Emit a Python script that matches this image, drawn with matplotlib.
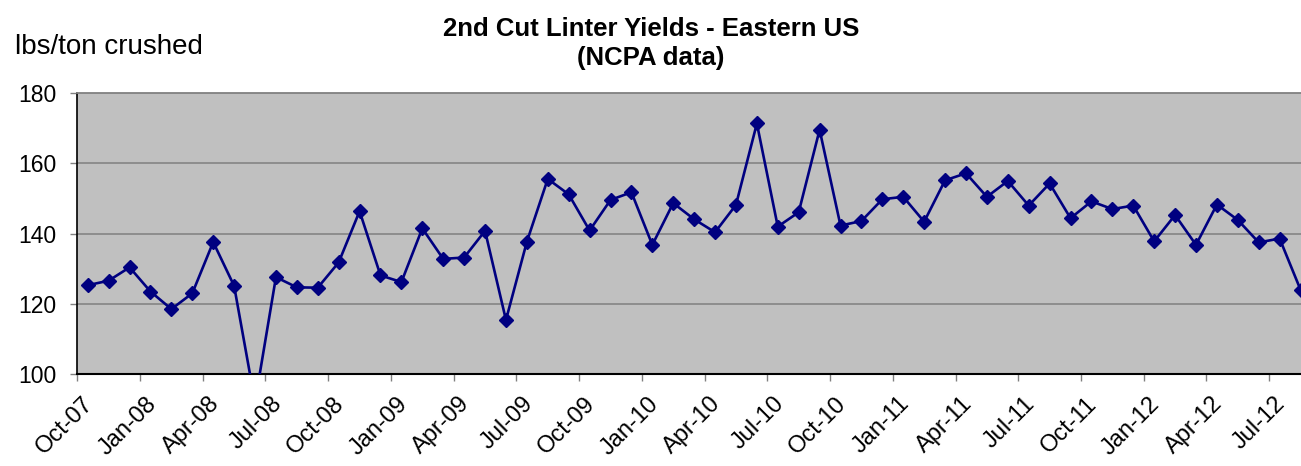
import matplotlib
matplotlib.use("Agg")
import matplotlib.pyplot as plt

plt.rcParams['font.family'] = ['Liberation Sans', 'DejaVu Sans']

# Monthly data, Oct-07 .. Aug-12
months = ["Oct-07", "Nov-07", "Dec-07", "Jan-08", "Feb-08", "Mar-08", "Apr-08", "May-08", "Jun-08",
          "Jul-08", "Aug-08", "Sep-08", "Oct-08", "Nov-08", "Dec-08", "Jan-09", "Feb-09", "Mar-09",
          "Apr-09", "May-09", "Jun-09", "Jul-09", "Aug-09", "Sep-09", "Oct-09", "Nov-09", "Dec-09",
          "Jan-10", "Feb-10", "Mar-10", "Apr-10", "May-10", "Jun-10", "Jul-10", "Aug-10", "Sep-10",
          "Oct-10", "Nov-10", "Dec-10", "Jan-11", "Feb-11", "Mar-11", "Apr-11", "May-11", "Jun-11",
          "Jul-11", "Aug-11", "Sep-11", "Oct-11", "Nov-11", "Dec-11", "Jan-12", "Feb-12", "Mar-12",
          "Apr-12", "May-12", "Jun-12", "Jul-12", "Aug-12"]
yields = [125.3, 126.6, 130.4, 123.5, 118.5, 123.0, 137.6, 125.1, 92.0,
          127.6, 124.7, 124.6, 131.8, 146.4, 128.1, 126.2, 141.5, 132.8,
          133.2, 140.8, 115.4, 137.7, 155.6, 151.2, 140.9, 149.6, 151.8,
          136.8, 148.7, 144.1, 140.4, 148.2, 171.4, 142.0, 146.1, 169.6,
          142.3, 143.6, 149.8, 150.5, 143.4, 155.2, 157.2, 150.5, 155.0,
          148.0, 154.3, 144.4, 149.2, 147.0, 148.0, 137.8, 145.3, 136.8,
          148.3, 143.9, 137.5, 138.6, 124.0]
yticks = [100, 120, 140, 160, 180]

W, H = 1301, 466
fig = plt.figure(figsize=(W / 100, H / 100), dpi=100)
left_px, right_px, top_px, bot_px = 77.3, 77.3 + 59 * 20.91, 93.3, 374.0
ax = fig.add_axes([left_px / W, 1 - bot_px / H, (right_px - left_px) / W, (bot_px - top_px) / H])
ax.set_facecolor('#C0C0C0')

x = [i + 0.5 for i in range(len(yields))]
ax.plot(x, yields, color='#000080', linewidth=1.9, marker='D', markersize=7.0,
        markerfacecolor='#000080', markeredgecolor='#000080', clip_on=True, zorder=3)

ax.set_xlim(0, 59)
ax.set_ylim(100, 180)
ax.set_yticks(yticks)
ax.set_yticklabels([str(v) for v in yticks], fontsize=16.5)

# major ticks (marks only) every quarter, labels placed slightly right of the tick
tick_pos = list(range(0, 59, 3))
ax.set_xticks(tick_pos)
ax.set_xticklabels([])
ax.set_xticks([p + 0.25 for p in tick_pos], minor=True)
ax.set_xticklabels([months[i] for i in tick_pos], minor=True, fontsize=17, rotation=45,
                   ha='right', va='top', rotation_mode='anchor')
ax.tick_params(axis='both', which='major', direction='out', length=5, color='#808080', width=1)
ax.tick_params(axis='x', which='minor', length=0, pad=13.5)
ax.tick_params(axis='y', pad=10)

for v in [120, 140, 160]:
    ax.axhline(v, color='#808080', linewidth=1.1, zorder=1)
ax.spines['top'].set_color('#808080')
ax.spines['top'].set_linewidth(1.3)
ax.spines['right'].set_visible(False)
ax.spines['left'].set_color('black')
ax.spines['bottom'].set_color('black')
ax.spines['left'].set_linewidth(1.2)
ax.spines['bottom'].set_linewidth(1.5)

fig.text(651 / W, 1 - 35.5 / H, "2nd Cut Linter Yields - Eastern US", ha='center', va='baseline',
         fontsize=18.5, fontweight='bold')
fig.text(651 / W, 1 - 65 / H, "(NCPA data)", ha='center', va='baseline',
         fontsize=18.5, fontweight='bold')
fig.text(15 / W, 1 - 54 / H, "lbs/ton crushed", ha='left', va='baseline', fontsize=20)

fig.savefig("out.png", dpi=100)
